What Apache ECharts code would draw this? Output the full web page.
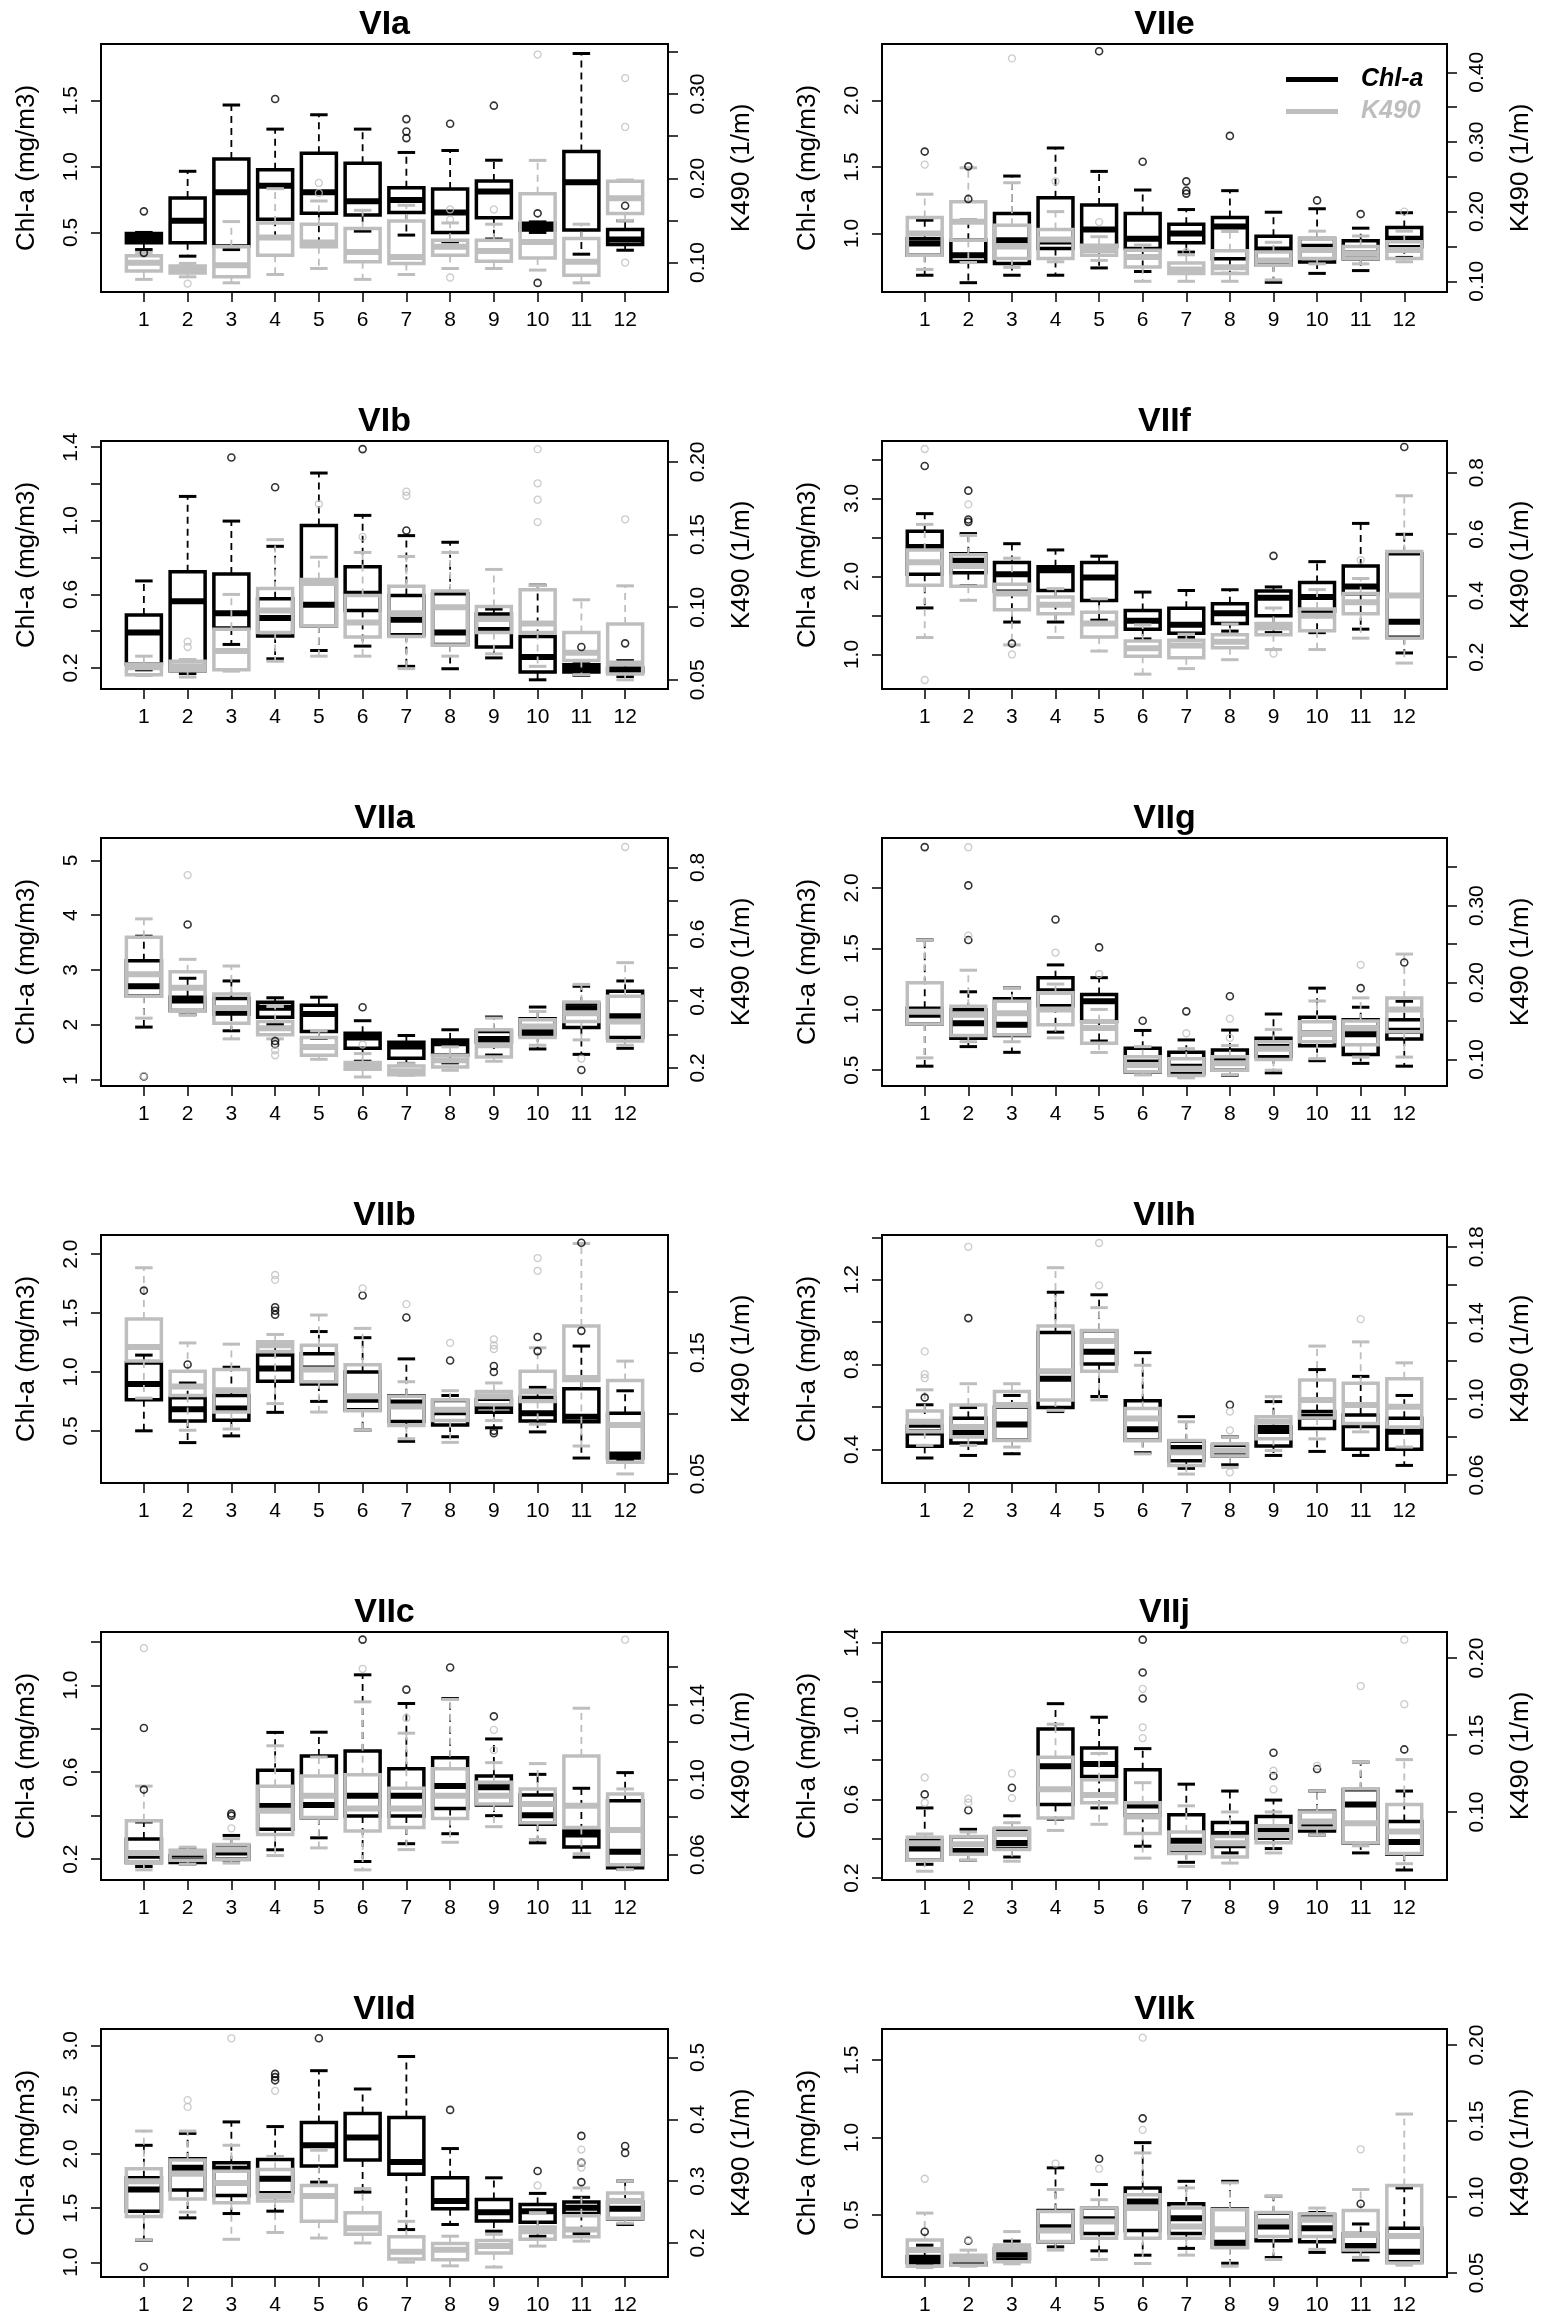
<!DOCTYPE html>
<html>
<head>
<meta charset="utf-8">
<script src="https://cdn.jsdelivr.net/npm/echarts@6/dist/echarts.min.js"></script>
<style>
html,body{margin:0;padding:0;background:#fff;}
#chart{width:1543px;height:2324px;}
</style>
</head>
<body>
<div id="chart"></div>
<script>
// ---------------- DATA ----------------
const months = [1,2,3,4,5,6,7,8,9,10,11,12];
const monthLabels = ['1','2','3','4','5','6','7','8','9','10','11','12'];
const panelNames = ['VIa','VIIe','VIb','VIIf','VIIa','VIIg','VIIb','VIIh','VIIc','VIIj','VIId','VIIk'];
// box stats per month: [lower whisker, Q1, median, Q3, upper whisker]; outliers: [month, value]

// VIa
const VIa_chl = [[0.37,0.421,0.457,0.492,0.50],[0.32,0.421,0.589,0.761,0.964],[0.37,0.398,0.805,1.058,1.467],[0.467,0.60,0.855,0.975,1.284],[0.419,0.645,0.805,1.10,1.393],[0.51,0.632,0.736,1.025,1.284],[0.48,0.652,0.746,0.84,1.107],[0.429,0.50,0.652,0.83,1.122],[0.45,0.612,0.81,0.891,1.048],[0.50,0.518,0.543,0.569,0.58],[0.335,0.518,0.881,1.114,1.858],[0.365,0.409,0.447,0.523,0.589]];
const VIa_chlOut = [[1,0.66],[1,0.345],[4,1.513],[7,1.36],[7,1.266],[7,1.216],[8,1.325],[9,1.462],[10,0.645],[10,0.117],[12,0.703]];
const VIa_k490 = [[0.080,0.090,0.0996,0.108,0.112],[0.083,0.0877,0.0917,0.096,0.099],[0.0759,0.083,0.0968,0.1186,0.1486],[0.0858,0.1087,0.1296,0.147,0.1877],[0.0929,0.1186,0.1237,0.1455,0.1731],[0.080,0.1008,0.1126,0.1403,0.162],[0.0858,0.0988,0.1067,0.1494,0.168],[0.0929,0.1087,0.1186,0.1265,0.147],[0.0929,0.1016,0.1138,0.1265,0.1455],[0.091,0.1055,0.1245,0.1818,0.2213],[0.0759,0.085,0.1008,0.1285,0.1455],[0.150,0.1581,0.1763,0.1964,0.198]];
const VIa_k490Out = [[2,0.075],[5,0.1945],[5,0.1826],[8,0.163],[8,0.151],[8,0.0822],[9,0.163],[10,0.347],[12,0.319],[12,0.261],[12,0.10]];
const VIa_chlRange = [0.048,1.93], VIa_chlTicks = [0.5,1.0,1.5], VIa_chlLabels = ['0.5','1.0','1.5'];
const VIa_k490Range = [0.065,0.3595], VIa_k490Ticks = [0.10,0.15,0.20,0.25,0.30,0.35], VIa_k490Labels = ['0.10','0.20','0.30'];

// VIIe
const VIIe_chl = [[0.686,0.837,0.925,0.96,1.10],[0.63,0.79,0.837,0.95,1.10],[0.686,0.774,0.95,1.151,1.432],[0.686,0.887,0.94,1.269,1.643],[0.741,0.90,1.03,1.214,1.467],[0.714,0.887,0.96,1.151,1.327],[0.86,0.93,1.0,1.07,1.18],[0.70,0.81,1.053,1.12,1.322],[0.633,0.764,0.88,0.98,1.16],[0.70,0.786,0.90,0.962,1.186],[0.721,0.81,0.85,0.945,1.04],[0.82,0.90,0.96,1.045,1.156]];
const VIIe_chlOut = [[1,1.616],[2,1.26],[2,1.505],[5,2.37],[6,1.54],[7,1.392],[7,1.322],[7,1.30],[8,1.734],[10,1.249],[11,1.146]];
const VIIe_k490 = [[0.117,0.1374,0.1686,0.1917,0.225],[0.127,0.159,0.1854,0.2142,0.263],[0.12,0.1326,0.15,0.1806,0.2415],[0.128,0.1326,0.16,0.1744,0.20],[0.13,0.1374,0.145,0.1518,0.164],[0.10,0.1206,0.135,0.1446,0.152],[0.10,0.111,0.117,0.1264,0.138],[0.10,0.111,0.12,0.1437,0.1715],[0.102,0.123,0.13,0.142,0.156],[0.125,0.1326,0.145,0.1614,0.172],[0.125,0.1326,0.14,0.15,0.165],[0.128,0.1326,0.145,0.1566,0.172]];
const VIIe_k490Out = [[1,0.2675],[3,0.42],[4,0.2435],[5,0.185],[7,0.142],[12,0.20]];
const VIIe_chlRange = [0.56,2.425], VIIe_chlTicks = [1.0,1.5,2.0], VIIe_chlLabels = ['1.0','1.5','2.0'];
const VIIe_k490Range = [0.0846,0.4407], VIIe_k490Ticks = [0.10,0.15,0.20,0.25,0.30,0.35,0.40], VIIe_k490Labels = ['0.10','0.20','0.30','0.40'];

// VIb
const VIb_chl = [[0.19,0.222,0.393,0.488,0.673],[0.17,0.185,0.563,0.723,1.132],[0.328,0.417,0.497,0.71,0.998],[0.25,0.374,0.472,0.576,0.861],[0.295,0.43,0.543,0.974,1.259],[0.319,0.512,0.604,0.75,1.029],[0.209,0.38,0.462,0.594,0.919],[0.196,0.328,0.393,0.604,0.883],[0.255,0.314,0.407,0.494,0.52],[0.136,0.178,0.26,0.371,0.65],[0.16,0.178,0.196,0.218,0.237],[0.154,0.18,0.187,0.20,0.24]];
const VIb_chlOut = [[3,1.343],[4,1.182],[6,1.389],[7,0.947],[11,0.314],[12,0.334]];
const VIb_k490 = [[0.053,0.0535,0.0586,0.0609,0.0663],[0.0519,0.0563,0.0593,0.0628,0.064],[0.056,0.057,0.0698,0.0849,0.1088],[0.0628,0.0826,0.0977,0.1128,0.1465],[0.0663,0.0872,0.1167,0.1191,0.1344],[0.0663,0.0795,0.0895,0.1081,0.1377],[0.0577,0.0798,0.0958,0.1144,0.1349],[0.0663,0.074,0.10,0.1112,0.1377],[0.0679,0.0826,0.0919,0.1005,0.126],[0.0593,0.0826,0.0888,0.1121,0.1149],[0.0535,0.0633,0.0686,0.0826,0.1051],[0.05,0.054,0.0612,0.0884,0.1147]];
const VIb_k490Out = [[2,0.0763],[2,0.0726],[5,0.171],[6,0.1484],[7,0.1795],[7,0.1767],[10,0.2088],[10,0.1853],[10,0.174],[10,0.1586],[12,0.1605]];
const VIb_chlRange = [0.086,1.433], VIb_chlTicks = [0.2,0.4,0.6,0.8,1.0,1.2,1.4], VIb_chlLabels = ['0.2','0.6','1.0','1.4'];
const VIb_k490Range = [0.0437,0.2144], VIb_k490Ticks = [0.05,0.10,0.15,0.20], VIb_k490Labels = ['0.05','0.10','0.15','0.20'];

// VIIf
const VIIf_chl = [[1.597,2.03,2.377,2.58,2.805],[1.88,2.048,2.203,2.29,2.55],[1.416,1.81,2.03,2.18,2.42],[1.416,1.82,2.08,2.126,2.34],[1.44,1.693,1.987,2.18,2.26],[1.20,1.325,1.433,1.563,1.80],[1.22,1.273,1.381,1.593,1.82],[1.30,1.398,1.528,1.649,1.83],[1.281,1.498,1.727,1.814,1.866],[1.28,1.554,1.736,1.922,2.19],[1.325,1.78,1.87,2.134,2.68],[1.02,1.22,1.42,2.29,2.54]];
const VIIf_chlOut = [[1,3.415],[2,3.10],[2,2.73],[2,2.70],[3,1.14],[9,2.264],[12,3.66]];
const VIIf_k490 = [[0.264,0.434,0.509,0.549,0.632],[0.385,0.431,0.497,0.533,0.596],[0.24,0.354,0.407,0.437,0.522],[0.264,0.341,0.371,0.396,0.423],[0.22,0.266,0.31,0.346,0.39],[0.145,0.203,0.229,0.253,0.305],[0.163,0.198,0.238,0.255,0.275],[0.192,0.231,0.25,0.273,0.308],[0.225,0.273,0.297,0.31,0.36],[0.225,0.286,0.335,0.357,0.42],[0.262,0.341,0.379,0.407,0.456],[0.181,0.262,0.401,0.544,0.725]];
const VIIf_k490Out = [[1,0.877],[1,0.126],[2,0.697],[3,0.209],[9,0.212],[11,0.516]];
const VIIf_chlRange = [0.558,3.736], VIIf_chlTicks = [1.0,1.5,2.0,2.5,3.0,3.5], VIIf_chlLabels = ['1.0','2.0','3.0'];
const VIIf_k490Range = [0.0967,0.903], VIIf_k490Ticks = [0.2,0.4,0.6,0.8], VIIf_k490Labels = ['0.2','0.4','0.6','0.8'];

// VIIa
const VIIa_chl = [[1.954,2.52,2.70,3.166,3.615],[2.18,2.255,2.44,2.5,2.846],[1.886,2.194,2.23,2.477,2.797],[2.0,2.132,2.305,2.41,2.49],[1.75,1.874,2.194,2.354,2.50],[1.33,1.566,1.763,1.843,2.07],[1.29,1.382,1.597,1.677,1.80],[1.30,1.443,1.658,1.72,1.905],[1.443,1.68,1.738,1.874,2.138],[1.554,1.812,1.874,2.108,2.32],[1.455,1.948,2.30,2.378,2.70],[1.566,1.763,2.15,2.61,2.797]];
const VIIa_chlOut = [[1,1.05],[2,3.83],[4,1.70],[4,1.64],[6,2.317],[11,1.17]];
const VIIa_k490 = [[0.349,0.4145,0.48,0.591,0.646],[0.359,0.371,0.44,0.488,0.525],[0.287,0.334,0.379,0.4215,0.505],[0.287,0.299,0.319,0.339,0.384],[0.226,0.238,0.263,0.291,0.311],[0.173,0.196,0.206,0.216,0.243],[0.178,0.18,0.19,0.206,0.213],[0.193,0.203,0.223,0.238,0.263],[0.22,0.233,0.268,0.314,0.349],[0.268,0.291,0.324,0.344,0.369],[0.284,0.339,0.364,0.397,0.45],[0.268,0.281,0.339,0.4145,0.515]];
const VIIa_k490Out = [[1,0.176],[2,0.777],[4,0.253],[4,0.238],[6,0.27],[11,0.228],[12,0.861]];
const VIIa_chlRange = [0.877,5.41], VIIa_chlTicks = [1,2,3,4,5], VIIa_chlLabels = ['1','2','3','4','5'];
const VIIa_k490Range = [0.146,0.888], VIIa_k490Ticks = [0.2,0.3,0.4,0.5,0.6,0.7,0.8], VIIa_k490Labels = ['0.2','0.4','0.6','0.8'];

// VIIg
const VIIg_chl = [[0.533,0.879,0.957,1.01,1.571],[0.694,0.763,0.887,0.998,1.145],[0.647,0.785,0.874,1.087,1.178],[0.813,1.03,1.15,1.261,1.366],[0.74,0.90,1.067,1.123,1.261],[0.464,0.486,0.564,0.68,0.827],[0.445,0.472,0.528,0.647,0.749],[0.458,0.50,0.575,0.666,0.83],[0.478,0.611,0.69,0.763,0.962],[0.578,0.702,0.804,0.935,1.175],[0.556,0.629,0.796,0.915,1.018],[0.533,0.757,0.824,0.915,1.067]];
const VIIg_chlOut = [[1,2.335],[2,1.571],[2,2.02],[4,1.74],[5,1.51],[6,0.907],[7,0.984],[8,1.108],[11,1.175],[12,1.386]];
const VIIg_k490 = [[0.102,0.146,0.162,0.1998,0.255],[0.123,0.131,0.158,0.169,0.216],[0.123,0.132,0.16,0.1757,0.193],[0.128,0.145,0.165,0.1867,0.198],[0.109,0.121,0.141,0.149,0.165],[0.080,0.0838,0.0926,0.1035,0.1166],[0.076,0.079,0.088,0.101,0.114],[0.080,0.086,0.095,0.1035,0.118],[0.086,0.10,0.114,0.123,0.139],[0.101,0.123,0.134,0.149,0.176],[0.103,0.119,0.141,0.150,0.18],[0.103,0.136,0.165,0.180,0.237]];
const VIIg_k490Out = [[2,0.376],[2,0.261],[4,0.239],[5,0.211],[7,0.134],[8,0.153],[8,0.128],[11,0.223]];
const VIIg_chlRange = [0.37,2.41], VIIg_chlTicks = [0.5,1.0,1.5,2.0], VIIg_chlLabels = ['0.5','1.0','1.5','2.0'];
const VIIg_k490Range = [0.0654,0.388], VIIg_k490Ticks = [0.10,0.15,0.20,0.25,0.30,0.35], VIIg_k490Labels = ['0.10','0.20','0.30'];

// VIIb
const VIIb_chl = [[0.50,0.763,0.897,1.077,1.143],[0.40,0.583,0.683,0.78,0.906],[0.457,0.59,0.69,0.80,1.04],[0.657,0.92,1.029,1.143,1.25],[0.75,0.897,1.029,1.154,1.343],[0.506,0.68,0.763,1.0,1.291],[0.411,0.58,0.74,0.797,1.111],[0.45,0.549,0.657,0.757,0.80],[0.526,0.657,0.706,0.769,0.80],[0.491,0.583,0.649,0.783,0.869],[0.269,0.577,0.62,0.857,1.22],[0.25,0.27,0.30,0.649,0.84]];
const VIIb_chlOut = [[1,1.691],[2,1.063],[4,1.55],[4,1.52],[4,1.486],[6,1.649],[7,1.463],[8,1.097],[9,1.05],[9,1.0],[9,0.50],[9,0.48],[10,1.297],[10,1.177],[11,1.349],[11,2.097]];
const VIIb_k490 = [[0.1125,0.143,0.1547,0.1778,0.22],[0.086,0.1147,0.122,0.1347,0.158],[0.087,0.101,0.119,0.136,0.157],[0.108,0.151,0.156,0.159,0.165],[0.101,0.126,0.136,0.156,0.181],[0.086,0.102,0.114,0.14,0.17],[0.079,0.09,0.1056,0.114,0.126],[0.076,0.094,0.1028,0.111,0.1186],[0.094,0.107,0.114,0.118,0.125],[0.091,0.1097,0.118,0.1347,0.154],[0.073,0.127,0.129,0.172,0.24],[0.05,0.0597,0.0903,0.127,0.143]];
const VIIb_k490Out = [[4,0.214],[4,0.21],[6,0.203],[7,0.19],[8,0.158],[9,0.161],[9,0.153],[9,0.156],[10,0.228],[10,0.2175]];
const VIIb_chlRange = [0.057,2.163], VIIb_chlTicks = [0.5,1.0,1.5,2.0], VIIb_chlLabels = ['0.5','1.0','1.5','2.0'];
const VIIb_k490Range = [0.0425,0.247], VIIb_k490Ticks = [0.05,0.10,0.15,0.20], VIIb_k490Labels = ['0.05','0.15'];

// VIIh
const VIIh_chl = [[0.359,0.414,0.479,0.51,0.61],[0.371,0.43,0.48,0.546,0.597],[0.379,0.443,0.517,0.60,0.654],[0.578,0.597,0.733,0.951,1.141],[0.649,0.803,0.86,0.959,1.129],[0.384,0.443,0.495,0.629,0.856],[0.31,0.346,0.406,0.438,0.554],[0.327,0.368,0.39,0.419,0.459],[0.371,0.416,0.486,0.506,0.625],[0.39,0.498,0.554,0.578,0.776],[0.371,0.40,0.514,0.562,0.744],[0.324,0.40,0.483,0.546,0.654]];
const VIIh_chlOut = [[1,0.644],[2,1.019],[8,0.61]];
const VIIh_k490 = [[0.0756,0.0827,0.088,0.0936,0.1048],[0.0756,0.08,0.0853,0.0968,0.108],[0.0747,0.0782,0.0968,0.1039,0.108],[0.094,0.0995,0.1145,0.1384,0.169],[0.0995,0.1145,0.1304,0.136,0.148],[0.0711,0.078,0.0897,0.095,0.1177],[0.0605,0.065,0.072,0.0782,0.088],[0.064,0.07,0.0729,0.0765,0.08],[0.0729,0.0791,0.088,0.0906,0.1012],[0.079,0.09,0.0995,0.11,0.1278],[0.0827,0.0871,0.0968,0.1083,0.13],[0.0747,0.0853,0.0959,0.1106,0.119]];
const VIIh_k490Out = [[1,0.125],[1,0.113],[1,0.111],[2,0.18],[5,0.182],[5,0.1597],[8,0.0933],[8,0.0835],[8,0.0614],[11,0.142]];
const VIIh_chlRange = [0.241,1.411], VIIh_chlTicks = [0.4,0.6,0.8,1.0,1.2,1.4], VIIh_chlLabels = ['0.4','0.8','1.2'];
const VIIh_k490Range = [0.0558,0.1862], VIIh_k490Ticks = [0.06,0.08,0.10,0.12,0.14,0.16,0.18], VIIh_k490Labels = ['0.06','0.10','0.14','0.18'];

// VIIc
const VIIc_chl = [[0.166,0.184,0.216,0.293,0.371],[0.178,0.185,0.193,0.215,0.247],[0.194,0.20,0.231,0.262,0.309],[0.243,0.337,0.445,0.609,0.783],[0.298,0.39,0.449,0.675,0.784],[0.189,0.399,0.492,0.697,1.048],[0.271,0.399,0.492,0.616,0.916],[0.317,0.433,0.536,0.666,0.939],[0.40,0.449,0.531,0.582,0.753],[0.275,0.36,0.402,0.495,0.59],[0.209,0.256,0.313,0.329,0.526],[0.153,0.16,0.234,0.469,0.598]];
const VIIc_chlOut = [[1,0.803],[1,0.52],[3,0.41],[3,0.40],[6,1.21],[7,0.98],[8,1.082],[9,0.857]];
const VIIc_k490 = [[0.0519,0.0559,0.0609,0.078,0.0965],[0.055,0.057,0.061,0.0623,0.064],[0.0555,0.0573,0.0627,0.0654,0.0685],[0.0595,0.0708,0.0834,0.0965,0.118],[0.0636,0.0798,0.0914,0.1019,0.112],[0.0519,0.0726,0.0846,0.1026,0.1414],[0.0627,0.0744,0.0846,0.0954,0.1247],[0.0666,0.0792,0.0914,0.1058,0.1427],[0.0749,0.087,0.0914,0.0986,0.109],[0.0681,0.077,0.087,0.095,0.1085],[0.0605,0.0744,0.086,0.1126,0.138],[0.052,0.0546,0.0731,0.0923,0.095]];
const VIIc_k490Out = [[1,0.170],[3,0.074],[6,0.159],[7,0.1328],[9,0.1265],[9,0.1157],[12,0.1745]];
const VIIc_chlRange = [0.104,1.245], VIIc_chlTicks = [0.2,0.4,0.6,0.8,1.0,1.2], VIIc_chlLabels = ['0.2','0.6','1.0'];
const VIIc_k490Range = [0.0465,0.1786], VIIc_k490Ticks = [0.06,0.08,0.10,0.12,0.14,0.16], VIIc_k490Labels = ['0.06','0.10','0.14'];

// VIIj
const VIIj_chl = [[0.27,0.29,0.35,0.39,0.557],[0.29,0.324,0.338,0.41,0.448],[0.307,0.35,0.379,0.448,0.517],[0.50,0.574,0.769,0.959,1.088],[0.557,0.717,0.781,0.862,1.019],[0.362,0.52,0.569,0.752,0.859],[0.28,0.33,0.39,0.522,0.678],[0.328,0.36,0.424,0.483,0.643],[0.35,0.402,0.441,0.514,0.597],[0.419,0.44,0.466,0.54,0.643],[0.328,0.379,0.574,0.65,0.79],[0.241,0.321,0.384,0.488,0.643]];
const VIIj_chlOut = [[1,0.626],[2,0.545],[3,0.66],[6,1.414],[6,1.247],[6,1.114],[9,0.838],[9,0.72],[10,0.755],[12,0.855]];
const VIIj_k490 = [[0.0615,0.0686,0.0796,0.0835,0.0857],[0.0686,0.0725,0.079,0.084,0.087],[0.068,0.0756,0.0857,0.0895,0.093],[0.088,0.096,0.1147,0.1356,0.157],[0.092,0.106,0.111,0.121,0.138],[0.07,0.086,0.097,0.106,0.119],[0.0646,0.073,0.077,0.087,0.104],[0.0668,0.0708,0.0796,0.084,0.10],[0.0734,0.08,0.085,0.091,0.10],[0.085,0.0895,0.0938,0.10,0.1136],[0.078,0.08,0.0927,0.115,0.1323],[0.0664,0.073,0.0873,0.1048,0.134]];
const VIIj_k490Out = [[1,0.1224],[1,0.106],[2,0.1086],[2,0.106],[3,0.125],[3,0.109],[6,0.18],[6,0.155],[6,0.148],[9,0.1268],[9,0.1147],[10,0.13],[11,0.1818],[12,0.2119],[12,0.17]];
const VIIj_chlRange = [0.19,1.453], VIIj_chlTicks = [0.2,0.4,0.6,0.8,1.0,1.2,1.4], VIIj_chlLabels = ['0.2','0.6','1.0','1.4'];
const VIIj_k490Range = [0.0558,0.2169], VIIj_k490Ticks = [0.10,0.15,0.20], VIIj_k490Labels = ['0.10','0.15','0.20'];

// VIId
const VIId_chl = [[1.204,1.472,1.673,1.78,2.08],[1.41,1.667,1.873,1.957,2.19],[1.45,1.617,1.864,1.92,2.296],[1.472,1.642,1.772,1.95,2.253],[1.74,1.889,2.08,2.29,2.769],[1.648,1.944,2.151,2.373,2.60],[1.302,1.812,1.926,2.336,2.90],[1.349,1.494,1.565,1.78,2.05],[1.287,1.38,1.463,1.58,1.78],[1.24,1.37,1.472,1.534,1.636],[1.265,1.451,1.503,1.556,1.60],[1.349,1.401,1.494,1.556,1.75]];
const VIId_chlOut = [[1,0.957],[4,2.74],[4,2.71],[4,2.68],[5,3.068],[8,2.407],[10,1.843],[11,2.167],[11,1.92],[11,1.74],[12,2.074],[12,2.01]];
const VIId_k490 = [[0.205,0.243,0.30,0.32,0.381],[0.25,0.271,0.312,0.334,0.381],[0.206,0.265,0.297,0.316,0.358],[0.217,0.268,0.276,0.319,0.34],[0.208,0.235,0.276,0.293,0.35],[0.2,0.214,0.224,0.249,0.288],[0.169,0.174,0.186,0.21,0.235],[0.163,0.173,0.189,0.199,0.211],[0.161,0.184,0.195,0.204,0.214],[0.195,0.206,0.219,0.226,0.249],[0.203,0.21,0.222,0.244,0.289],[0.232,0.24,0.268,0.281,0.3]];
const VIId_k490Out = [[2,0.431],[2,0.42],[3,0.531],[4,0.446],[10,0.293],[11,0.351],[11,0.33],[11,0.322]];
const VIId_chlRange = [0.864,3.154], VIId_chlTicks = [1.0,1.5,2.0,2.5,3.0], VIId_chlLabels = ['1.0','1.5','2.0','2.5','3.0'];
const VIId_k490Range = [0.145,0.546], VIId_k490Ticks = [0.2,0.3,0.4,0.5], VIId_k490Labels = ['0.2','0.3','0.4','0.5'];

// VIIk
const VIIk_chl = [[0.18,0.19,0.217,0.23,0.304],[0.175,0.178,0.185,0.19,0.2],[0.2,0.215,0.245,0.28,0.33],[0.293,0.326,0.42,0.528,0.804],[0.267,0.38,0.472,0.543,0.696],[0.239,0.398,0.587,0.674,0.967],[0.283,0.38,0.478,0.572,0.717],[0.187,0.29,0.32,0.537,0.717],[0.224,0.333,0.424,0.511,0.62],[0.257,0.326,0.413,0.50,0.515],[0.207,0.263,0.298,0.38,0.441],[0.187,0.196,0.261,0.413,0.674]];
const VIIk_chlOut = [[1,0.391],[2,0.333],[5,0.863],[6,1.124],[11,0.572]];
const VIIk_k490 = [[0.0535,0.0544,0.065,0.0717,0.0894],[0.0544,0.0551,0.0588,0.0617,0.065],[0.056,0.0573,0.0655,0.0684,0.0772],[0.065,0.0706,0.0779,0.0905,0.1049],[0.0588,0.0728,0.0838,0.0927,0.0982],[0.0562,0.0728,0.0927,0.1015,0.129],[0.0617,0.0728,0.0805,0.0927,0.106],[0.0544,0.0666,0.0788,0.0916,0.1093],[0.0588,0.0739,0.0838,0.0898,0.1004],[0.0655,0.0739,0.085,0.0889,0.0927],[0.0602,0.065,0.075,0.0911,0.1049],[0.0551,0.0566,0.0743,0.1075,0.1546]];
const VIIk_k490Out = [[1,0.112],[2,0.0717],[4,0.122],[5,0.1186],[6,0.2049],[6,0.1442],[11,0.1314]];
const VIIk_chlRange = [0.098,1.702], VIIk_chlTicks = [0.5,1.0,1.5], VIIk_chlLabels = ['0.5','1.0','1.5'];
const VIIk_k490Range = [0.0473,0.2106], VIIk_k490Ticks = [0.05,0.10,0.15,0.20], VIIk_k490Labels = ['0.05','0.10','0.15','0.20'];

const legendNames = ['Chl-a','K490'];
const axisNames = ['Chl-a (mg/m3)','K490 (1/m)'];

// ---------------- ASSEMBLY ----------------
const panels = [
  {name:'VIa', chl:VIa_chl, chlOut:VIa_chlOut, k490:VIa_k490, k490Out:VIa_k490Out, cR:VIa_chlRange, cT:VIa_chlTicks, cL:VIa_chlLabels, kR:VIa_k490Range, kT:VIa_k490Ticks, kL:VIa_k490Labels},
  {name:'VIIe', chl:VIIe_chl, chlOut:VIIe_chlOut, k490:VIIe_k490, k490Out:VIIe_k490Out, cR:VIIe_chlRange, cT:VIIe_chlTicks, cL:VIIe_chlLabels, kR:VIIe_k490Range, kT:VIIe_k490Ticks, kL:VIIe_k490Labels},
  {name:'VIb', chl:VIb_chl, chlOut:VIb_chlOut, k490:VIb_k490, k490Out:VIb_k490Out, cR:VIb_chlRange, cT:VIb_chlTicks, cL:VIb_chlLabels, kR:VIb_k490Range, kT:VIb_k490Ticks, kL:VIb_k490Labels},
  {name:'VIIf', chl:VIIf_chl, chlOut:VIIf_chlOut, k490:VIIf_k490, k490Out:VIIf_k490Out, cR:VIIf_chlRange, cT:VIIf_chlTicks, cL:VIIf_chlLabels, kR:VIIf_k490Range, kT:VIIf_k490Ticks, kL:VIIf_k490Labels},
  {name:'VIIa', chl:VIIa_chl, chlOut:VIIa_chlOut, k490:VIIa_k490, k490Out:VIIa_k490Out, cR:VIIa_chlRange, cT:VIIa_chlTicks, cL:VIIa_chlLabels, kR:VIIa_k490Range, kT:VIIa_k490Ticks, kL:VIIa_k490Labels},
  {name:'VIIg', chl:VIIg_chl, chlOut:VIIg_chlOut, k490:VIIg_k490, k490Out:VIIg_k490Out, cR:VIIg_chlRange, cT:VIIg_chlTicks, cL:VIIg_chlLabels, kR:VIIg_k490Range, kT:VIIg_k490Ticks, kL:VIIg_k490Labels},
  {name:'VIIb', chl:VIIb_chl, chlOut:VIIb_chlOut, k490:VIIb_k490, k490Out:VIIb_k490Out, cR:VIIb_chlRange, cT:VIIb_chlTicks, cL:VIIb_chlLabels, kR:VIIb_k490Range, kT:VIIb_k490Ticks, kL:VIIb_k490Labels},
  {name:'VIIh', chl:VIIh_chl, chlOut:VIIh_chlOut, k490:VIIh_k490, k490Out:VIIh_k490Out, cR:VIIh_chlRange, cT:VIIh_chlTicks, cL:VIIh_chlLabels, kR:VIIh_k490Range, kT:VIIh_k490Ticks, kL:VIIh_k490Labels},
  {name:'VIIc', chl:VIIc_chl, chlOut:VIIc_chlOut, k490:VIIc_k490, k490Out:VIIc_k490Out, cR:VIIc_chlRange, cT:VIIc_chlTicks, cL:VIIc_chlLabels, kR:VIIc_k490Range, kT:VIIc_k490Ticks, kL:VIIc_k490Labels},
  {name:'VIIj', chl:VIIj_chl, chlOut:VIIj_chlOut, k490:VIIj_k490, k490Out:VIIj_k490Out, cR:VIIj_chlRange, cT:VIIj_chlTicks, cL:VIIj_chlLabels, kR:VIIj_k490Range, kT:VIIj_k490Ticks, kL:VIIj_k490Labels},
  {name:'VIId', chl:VIId_chl, chlOut:VIId_chlOut, k490:VIId_k490, k490Out:VIId_k490Out, cR:VIId_chlRange, cT:VIId_chlTicks, cL:VIId_chlLabels, kR:VIId_k490Range, kT:VIId_k490Ticks, kL:VIId_k490Labels},
  {name:'VIIk', chl:VIIk_chl, chlOut:VIIk_chlOut, k490:VIIk_k490, k490Out:VIIk_k490Out, cR:VIIk_chlRange, cT:VIIk_chlTicks, cL:VIIk_chlLabels, kR:VIIk_k490Range, kT:VIIk_k490Ticks, kL:VIIk_k490Labels}
];

// layout / style constants
const FONT = '"Liberation Sans", Arial, Helvetica, sans-serif';
const COL_LEFT = [101, 882], COL_WIDTH = [567, 565];
const ROW_TOP0 = 44, ROW_PITCH = 397, FRAME_H = 248;
const BLACK = '#000000', GREY = '#bebebe';
const LW = {box: 3.5, median: 6, whisker: 1.8, staple: 3};

function fmtFrom(labels) {
  return function (v) {
    for (let i = 0; i < labels.length; i++) {
      if (Math.abs(Number(labels[i]) - v) < 1e-9) return labels[i];
    }
    return '';
  };
}

function boxRenderer(color) {
  return function (params, api) {
    const x = api.value(0);
    const pLo = api.coord([x, api.value(1)]);
    const pQ1 = api.coord([x, api.value(2)]);
    const pMed = api.coord([x, api.value(3)]);
    const pQ3 = api.coord([x, api.value(4)]);
    const pHi = api.coord([x, api.value(5)]);
    const half = api.size([0.4, 0])[0];
    const st = half * 0.5;
    const cx = pMed[0];
    const ln = (x1, y1, x2, y2, lw, dash) => ({
      type: 'line', shape: {x1, y1, x2, y2},
      style: {stroke: color, lineWidth: lw, lineDash: dash || null, fill: null}
    });
    return {
      type: 'group',
      children: [
        ln(cx, pQ3[1], cx, pHi[1], LW.whisker, [7, 5]),
        ln(cx, pQ1[1], cx, pLo[1], LW.whisker, [7, 5]),
        ln(cx - st, pHi[1], cx + st, pHi[1], LW.staple),
        ln(cx - st, pLo[1], cx + st, pLo[1], LW.staple),
        {type: 'rect', shape: {x: cx - half, y: pQ3[1], width: 2 * half, height: pQ1[1] - pQ3[1]},
         style: {stroke: color, fill: 'none', lineWidth: LW.box}},
        ln(cx - half, pMed[1], cx + half, pMed[1], LW.median)
      ]
    };
  };
}

const grid = [], xAxis = [], yAxis = [], series = [], title = [];
const tickStyle = {color: BLACK, width: 1.5};

panels.forEach(function (p, i) {
  const col = i % 2, row = Math.floor(i / 2);
  const left = COL_LEFT[col], width = COL_WIDTH[col];
  const top = ROW_TOP0 + row * ROW_PITCH;

  grid.push({left: left, top: top, width: width, height: FRAME_H, show: true,
    borderColor: BLACK, borderWidth: 2, backgroundColor: 'rgba(0,0,0,0)',
    containLabel: false, outerBoundsMode: 'none'});

  title.push({text: p.name, left: left + width / 2, top: top - 36, textAlign: 'center', padding: 0,
    textStyle: {fontSize: 34, fontWeight: 'bold', color: BLACK, fontFamily: FONT}});

  xAxis.push({gridIndex: i, type: 'value', min: 0.02, max: 12.98,
    axisLine: {show: false}, splitLine: {show: false},
    axisTick: {show: true, customValues: months, length: 10, lineStyle: tickStyle},
    axisLabel: {show: true, customValues: months, margin: 18, fontSize: 21, color: BLACK, fontFamily: FONT,
      formatter: function (v) { const k = months.indexOf(Math.round(v)); return k >= 0 ? monthLabels[k] : ''; }}});

  yAxis.push({gridIndex: i, type: 'value', position: 'left', min: p.cR[0], max: p.cR[1],
    name: axisNames[0], nameLocation: 'middle', nameRotate: 90, nameGap: 61,
    nameTextStyle: {fontSize: 26, color: BLACK, fontFamily: FONT},
    axisLine: {show: false}, splitLine: {show: false},
    axisTick: {show: true, customValues: p.cT, length: 10, lineStyle: tickStyle},
    axisLabel: {show: true, customValues: p.cL.map(Number), rotate: 90, margin: 19, fontSize: 21,
      color: BLACK, fontFamily: FONT, formatter: fmtFrom(p.cL)}});

  yAxis.push({gridIndex: i, type: 'value', position: 'right', min: p.kR[0], max: p.kR[1],
    name: axisNames[1], nameLocation: 'middle', nameRotate: 90, nameGap: 61,
    nameTextStyle: {fontSize: 26, color: BLACK, fontFamily: FONT},
    axisLine: {show: false}, splitLine: {show: false},
    axisTick: {show: true, customValues: p.kT, length: 10, lineStyle: tickStyle},
    axisLabel: {show: true, customValues: p.kL.map(Number), rotate: 90, margin: 20, fontSize: 21,
      color: BLACK, fontFamily: FONT, formatter: fmtFrom(p.kL)}});

  series.push({type: 'custom', name: legendNames[0], xAxisIndex: i, yAxisIndex: 2 * i,
    renderItem: boxRenderer(BLACK), itemStyle: {color: BLACK}, silent: true,
    encode: {x: 0, y: [1, 2, 3, 4, 5]},
    data: p.chl.map(function (s, j) { return [months[j]].concat(s); })});
  series.push({type: 'scatter', name: legendNames[0] + ' outliers', xAxisIndex: i, yAxisIndex: 2 * i,
    symbol: 'circle', symbolSize: 7, silent: true,
    itemStyle: {color: 'rgba(0,0,0,0)', borderColor: BLACK, borderWidth: 1.6},
    data: p.chlOut});
  series.push({type: 'custom', name: legendNames[1], xAxisIndex: i, yAxisIndex: 2 * i + 1,
    renderItem: boxRenderer(GREY), itemStyle: {color: GREY}, silent: true,
    encode: {x: 0, y: [1, 2, 3, 4, 5]},
    data: p.k490.map(function (s, j) { return [months[j]].concat(s); })});
  series.push({type: 'scatter', name: legendNames[1] + ' outliers', xAxisIndex: i, yAxisIndex: 2 * i + 1,
    symbol: 'circle', symbolSize: 7, silent: true,
    itemStyle: {color: 'rgba(0,0,0,0)', borderColor: GREY, borderWidth: 1.3},
    data: p.k490Out});
});

const chart = echarts.init(document.getElementById('chart'), null, {renderer: 'canvas'});
chart.setOption({
  animation: false,
  backgroundColor: '#ffffff',
  title: title,
  grid: grid,
  xAxis: xAxis,
  yAxis: yAxis,
  legend: {
    show: true, orient: 'vertical', left: 1286, top: 67, padding: 0,
    icon: 'rect', itemWidth: 52, itemHeight: 5, itemGap: 7, selectedMode: false,
    data: [
      {name: legendNames[0], itemStyle: {color: BLACK}, textStyle: {color: BLACK}},
      {name: legendNames[1], itemStyle: {color: GREY}, textStyle: {color: GREY}}
    ],
    textStyle: {fontSize: 25, fontWeight: 'bold', fontStyle: 'italic', fontFamily: FONT, padding: [0, 0, 0, 18]}
  },
  series: series
});
</script>
</body>
</html>
